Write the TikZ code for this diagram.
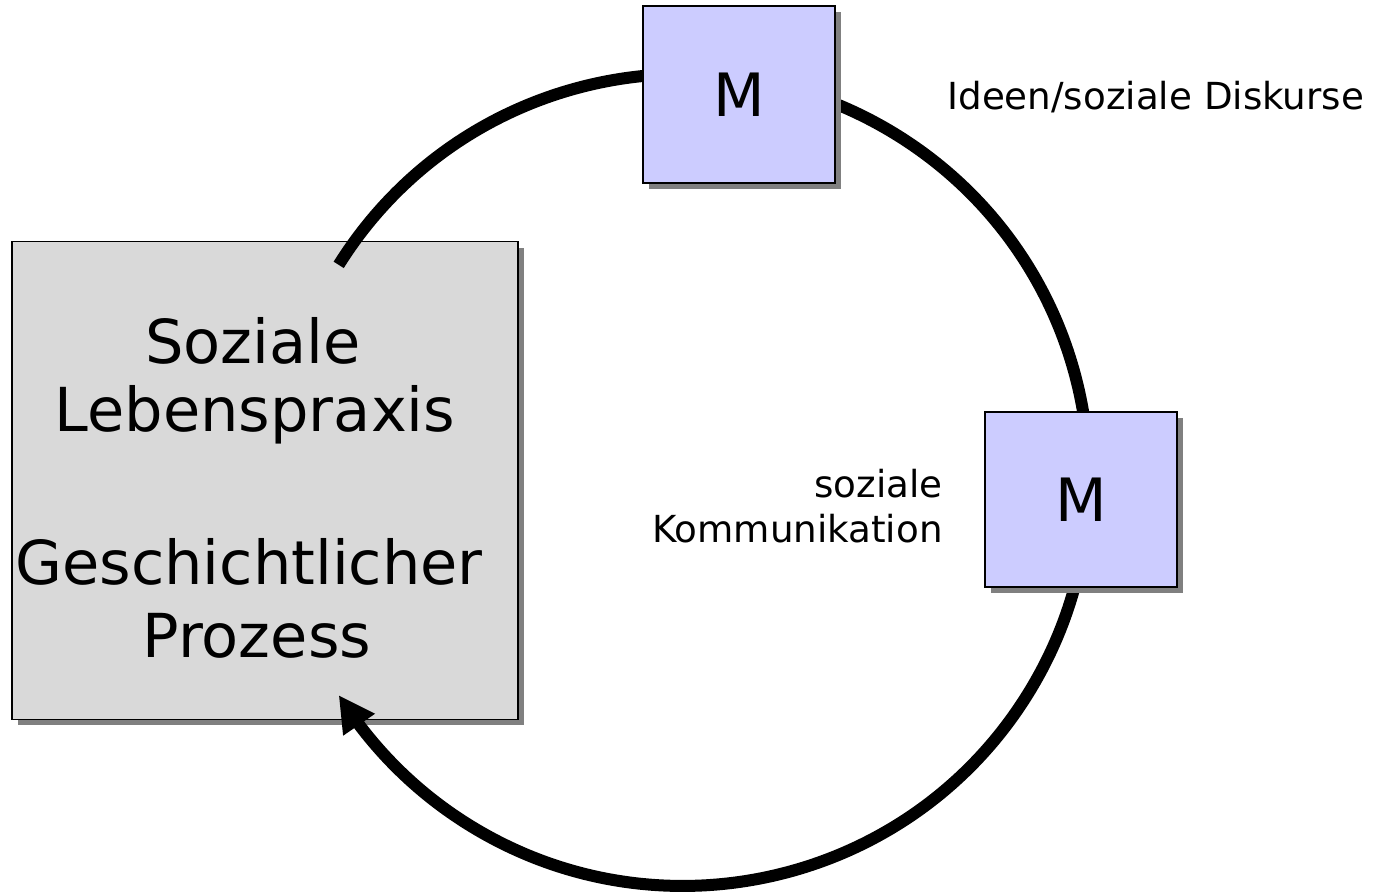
\documentclass[tikz,border=0pt]{standalone}
\usepackage{fontspec}
\setmainfont{DejaVu Sans}
\usetikzlibrary{arrows.meta,shadows,bending}
\definecolor{boxgray}{HTML}{D9D9D9}
\definecolor{mblue}{HTML}{CCCCFF}
\definecolor{shadowgray}{HTML}{808080}
\begin{document}
\begin{tikzpicture}[x=0.02cm,y=-0.02cm,
  boxshadow/.style={general shadow={fill=shadowgray,shadow xshift=0.12cm,shadow yshift=-0.12cm}},
  bigbox/.style={draw=black,line width=1pt,fill=boxgray,minimum width=10.12cm,minimum height=9.56cm,inner sep=0pt,boxshadow},
  mbox/.style={draw=black,line width=1pt,fill=mblue,inner sep=0pt,boxshadow,font=\fontsize{34}{40}\selectfont},
  bigtext/.style={anchor=base,inner sep=0pt,font=\fontsize{34.5}{40}\selectfont},
  smalltext/.style={inner sep=0pt,font=\fontsize{21.2}{25}\selectfont},
  cyclearc/.style={line width=0.24cm}
]
\useasboundingbox (0,0) rectangle (1375,893);
% gray box
\node[bigbox] (praxis) at (265,480.5) {};
% cycle arc
\coordinate (arcstart) at ({683+406*cos(-148)},{480+406*sin(-148)});
\draw[cyclearc,-{Triangle[length=0.72cm,width=0.72cm,flex]}] (arcstart) arc[start angle=148,end angle=-148,radius=8.12cm] coordinate (arcend);
% M boxes
\node[mbox,minimum width=3.84cm,minimum height=3.54cm] (m1) at (739,94.5) {M};
\node[mbox,minimum width=3.84cm,minimum height=3.50cm] (m2) at (1081,499.5) {M};
% texts in gray box
\node[bigtext] (t1) at (253,363) {Soziale};
\node[bigtext] (t2) at (255,431) {Lebenspraxis};
\node[bigtext] (t3) at (249,584) {Geschichtlicher};
\node[bigtext] (t4) at (257,657) {Prozess};
% small labels
\node[smalltext,anchor=base west] (l1) at (947,109) {Ideen/soziale Diskurse};
\node[smalltext,anchor=base east] (l2) at (943,497) {soziale};
\node[smalltext,anchor=base east] (l3) at (943,542) {Kommunikation};
\end{tikzpicture}
\end{document}
